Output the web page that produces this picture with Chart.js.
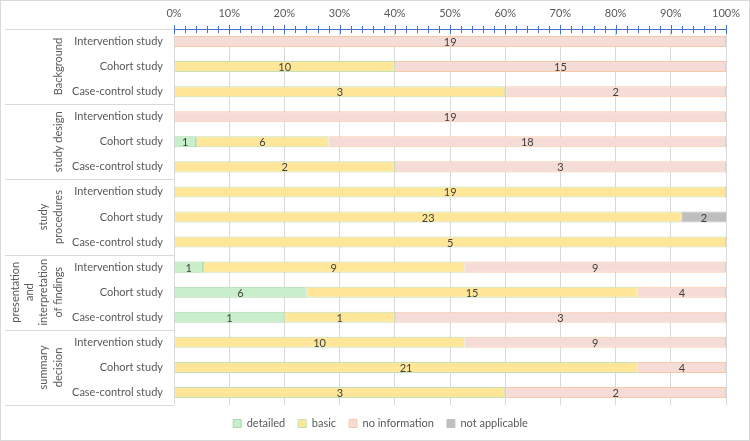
<!DOCTYPE html>
<html lang="en">
<head>
    <meta charset="UTF-8">
    <title>Reporting quality by study type</title>
    <script src="https://cdn.jsdelivr.net/npm/chart.js"></script>
    <style>
        body {
            margin: 0;
            background: #ffffff;
        }

        #wrap {
            width: 750px;
            height: 441px;
            box-sizing: border-box;
            border: 1px solid #d9d9d9;
        }
    </style>
</head>
<body>

<div id="wrap"><canvas id="qualityChart" width="748" height="439"></canvas></div>

<script>
    // groups on the left, each one holds the three study types
    const groupLines = [
        ['Background'],
        ['study design'],
        ['study', 'procedures'],
        ['presentation', 'and', 'interpretation', 'of findings'],
        ['summary', 'decision']
    ];
    const studyTypes = ['Intervention study', 'Cohort study', 'Case-control study'];

    // counts per row (5 groups x 3 study types)
    const detailed      = [0, 0, 0,   0, 1, 0,   0, 0, 0,    1, 6, 1,   0, 0, 0];
    const basic         = [0, 10, 3,  0, 6, 2,   19, 23, 5,  9, 15, 1,  10, 21, 3];
    const noInformation = [19, 15, 2, 19, 18, 3, 0, 0, 0,    9, 4, 3,   9, 4, 2];
    const notApplicable = [0, 0, 0,   0, 0, 0,   0, 2, 0,    0, 0, 0,   0, 0, 0];

    const xTicks = [0, 10, 20, 30, 40, 50, 60, 70, 80, 90, 100];

    const FONT = 'Lato, "Liberation Sans", sans-serif';
    const TEXT = '#595959';
    const SIZE = 11;

    let rowLabels = [];
    groupLines.forEach(function () {
        studyTypes.forEach(s => rowLabels.push(s));
    });

    const totals = detailed.map((d, i) => d + basic[i] + noInformation[i] + notApplicable[i]);
    function pct(arr) {
        return arr.map((v, i) => v / totals[i] * 100);
    }

    // axis ticks drawn across the blue top axis line
    const topAxisPlugin = {
        id: 'topAxis',
        afterDatasetsDraw(chart) {
            const ctx = chart.ctx;
            const xs = chart.scales.x;
            const y = chart.chartArea.top;
            ctx.save();
            ctx.strokeStyle = '#4472c4';
            ctx.lineWidth = 1;
            ctx.beginPath();
            ctx.moveTo(xs.left, y + 0.5);
            ctx.lineTo(xs.right, y + 0.5);
            for (let v = 0; v <= 100; v += 2) {
                const px = Math.round(xs.getPixelForValue(v)) + 0.5;
                const len = v % 10 === 0 ? 4 : 3;
                ctx.moveTo(px, y - len);
                ctx.lineTo(px, y + len + 1);
            }
            ctx.stroke();
            ctx.restore();
        }
    };

    // group titles and separator lines in the label column
    const groupPlugin = {
        id: 'groups',
        afterDraw(chart) {
            const ctx = chart.ctx;
            const area = chart.chartArea;
            const per = studyTypes.length;
            const step = (area.bottom - area.top) / rowLabels.length;
            ctx.save();
            ctx.strokeStyle = '#d9d9d9';
            ctx.lineWidth = 1;
            ctx.beginPath();
            for (let g = 0; g <= groupLines.length; g++) {
                const y = Math.round(area.top + g * per * step) + 0.5;
                ctx.moveTo(4, y);
                ctx.lineTo(area.left, y);
            }
            ctx.stroke();

            ctx.fillStyle = TEXT;
            ctx.font = SIZE + 'px ' + FONT;
            ctx.textAlign = 'center';
            ctx.textBaseline = 'middle';
            groupLines.forEach(function (lines, g) {
                const yc = area.top + (g * per + per / 2) * step;
                const lastX = 57;
                lines.forEach(function (line, i) {
                    const x = lastX - (lines.length - 1 - i) * 14.3;
                    ctx.save();
                    ctx.translate(x, yc);
                    ctx.rotate(-Math.PI / 2);
                    ctx.fillText(line, 0, 0);
                    ctx.restore();
                });
            });
            ctx.restore();
        }
    };

    // count labels in the middle of every segment
    const countPlugin = {
        id: 'counts',
        afterDatasetsDraw(chart) {
            const ctx = chart.ctx;
            ctx.save();
            ctx.fillStyle = '#404040';
            ctx.font = SIZE + 'px ' + FONT;
            ctx.textAlign = 'center';
            ctx.textBaseline = 'middle';
            chart.data.datasets.forEach(function (ds, di) {
                const meta = chart.getDatasetMeta(di);
                meta.data.forEach(function (bar, i) {
                    const n = ds.counts[i];
                    if (!n) return;
                    const p = bar.getProps(['x', 'base', 'y'], true);
                    ctx.fillText(String(n), (p.x + p.base) / 2, p.y + 1);
                });
            });
            ctx.restore();
        }
    };

    function makeSet(label, counts, bg, border) {
        return {
            label: label,
            counts: counts,
            data: pct(counts),
            backgroundColor: bg,
            borderColor: border,
            borderWidth: 1,
            borderSkipped: false,
            categoryPercentage: 0.44,
            barPercentage: 1
        };
    }

    const ctx = document.getElementById('qualityChart').getContext('2d');
    const chart = new Chart(ctx, {
        type: 'bar',
        data: {
            labels: rowLabels,
            datasets: [
                makeSet('detailed', detailed, '#c9eecb', '#a9d9a9'),
                makeSet('basic', basic, '#ffe699', '#c5e0b4'),
                makeSet('no information', noInformation, '#f6dcd6', '#f8c9a8'),
                makeSet('not applicable', notApplicable, '#bfbfbf', '#bfbfbf')
            ]
        },
        options: {
            indexAxis: 'y',
            responsive: false,
            animation: false,
            layout: {
                // extra left padding nudges the centred legend to the right
                padding: { top: 0, right: 23, bottom: 1, left: 34 }
            },
            scales: {
                x: {
                    position: 'top',
                    stacked: true,
                    min: 0,
                    max: 100,
                    afterBuildTicks(scale) {
                        scale.ticks = xTicks.map(v => ({ value: v }));
                    },
                    afterFit(scale) {
                        scale.height = 28;
                    },
                    ticks: {
                        color: TEXT,
                        font: { family: FONT, size: SIZE },
                        padding: 9,
                        maxRotation: 0,
                        callback: v => v + '%'
                    },
                    grid: {
                        color: '#d9d9d9',
                        drawTicks: false
                    },
                    border: { display: false }
                },
                y: {
                    stacked: true,
                    afterFit(scale) {
                        scale.width = 139;
                    },
                    ticks: {
                        color: TEXT,
                        font: { family: FONT, size: SIZE },
                        padding: 3
                    },
                    grid: { display: false },
                    border: { display: false }
                }
            },
            plugins: {
                legend: {
                    position: 'bottom',
                    labels: {
                        color: TEXT,
                        font: { family: FONT, size: SIZE },
                        boxWidth: 8,
                        boxHeight: 8,
                        padding: 13
                    }
                },
                tooltip: { enabled: false }
            }
        },
        plugins: [topAxisPlugin, groupPlugin, countPlugin]
    });
</script>

</body>
</html>
